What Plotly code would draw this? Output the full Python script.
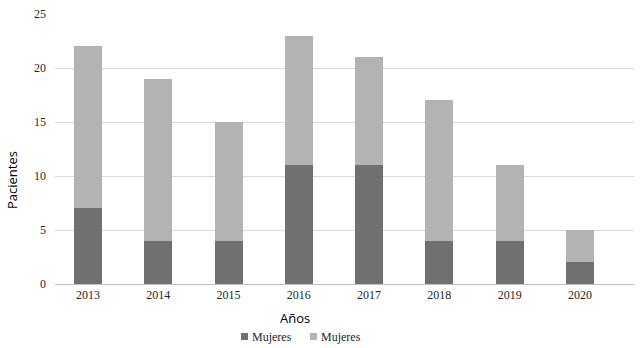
import plotly.graph_objects as go

years = ["2013", "2014", "2015", "2016", "2017", "2018", "2019", "2020"]
dark_vals = [7, 4, 4, 11, 11, 4, 4, 2]
light_vals = [15, 15, 11, 12, 10, 13, 7, 3]
series_names = ["Mujeres", "Mujeres"]
series_colors = ["#707070", "#b3b3b3"]
y_ticks = [0, 5, 10, 15, 20, 25]

xpos = list(range(len(years)))

fig = go.Figure()
fig.add_trace(go.Bar(x=xpos, y=dark_vals, name=series_names[0], marker_color=series_colors[0],
                     marker_line_width=0, width=0.4))
fig.add_trace(go.Bar(x=xpos, y=light_vals, name=series_names[1], marker_color=series_colors[1],
                     marker_line_width=0, width=0.4))

serif = "'Liberation Serif', 'Times New Roman', serif"
W, H = 640, 348
L, R, T, B = 55, 6, 14, 64
fig.update_layout(
    barmode="stack",
    width=W, height=H,
    margin=dict(l=L, r=R, t=T, b=B),
    plot_bgcolor="white", paper_bgcolor="white",
    font=dict(family=serif, size=12, color="#262626"),
    xaxis=dict(tickmode="array", tickvals=xpos, ticktext=years, range=[-0.47, 7.77],
               showgrid=False, showline=True, linecolor="#bfbfbf", linewidth=1,
               ticks="", tickfont=dict(family=serif, size=12, color="#262626")),
    yaxis=dict(range=[0, 25], tickvals=y_ticks, showgrid=True, gridcolor="#d9d9d9",
               zeroline=False, ticks="", ticklabelstandoff=8,
               tickfont=dict(family=serif, size=12, color="#262626")),
    showlegend=False,
)

pw, ph = W - L - R, H - T - B
def px(x):
    return (x - L) / pw
def py(y):
    return (H - B - y) / ph

fig.add_annotation(text="Años", xref="paper", yref="paper", x=px(295), y=py(318),
                   showarrow=False, font=dict(family="'Open Sans', sans-serif", size=13, color="#000000"),
                   xanchor="center", yanchor="middle")
fig.add_annotation(text="Pacientes", xref="paper", yref="paper", x=px(12), y=py(180),
                   showarrow=False, textangle=-90,
                   font=dict(family="'Open Sans', sans-serif", size=13, color="#000000"),
                   xanchor="center", yanchor="middle")

# manual legend
leg_x = [241, 310]
for i, (name, col) in enumerate(zip(series_names, series_colors)):
    fig.add_shape(type="rect", xref="paper", yref="paper",
                  x0=px(leg_x[i]), x1=px(leg_x[i] + 7), y0=py(340), y1=py(333),
                  fillcolor=col, line_width=0)
    fig.add_annotation(text=name, xref="paper", yref="paper", x=px(leg_x[i] + 9), y=py(336.5),
                       showarrow=False, xanchor="left", yanchor="middle",
                       font=dict(family=serif, size=12, color="#262626"))
fig.write_html("out.html", config={"displayModeBar": False},
               post_script="document.body.style.margin='0';document.body.style.overflow='hidden';")
